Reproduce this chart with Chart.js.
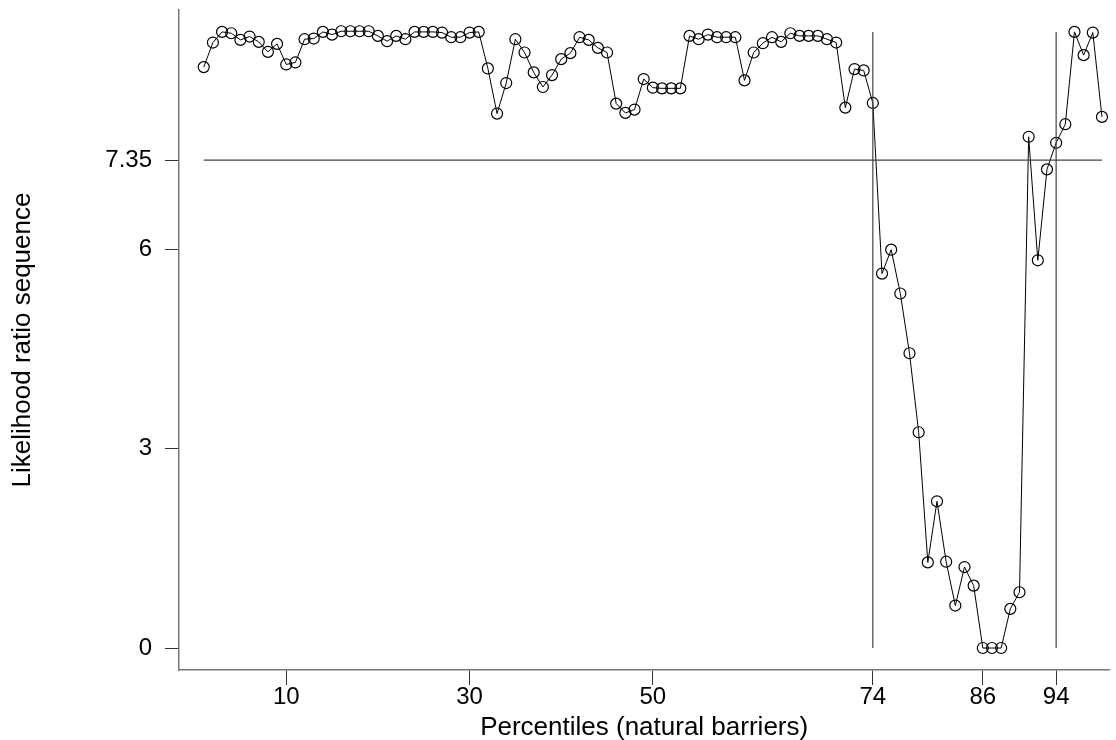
<!DOCTYPE html>
<html>
<head>
<meta charset="utf-8">
<script src="https://cdn.jsdelivr.net/npm/chart.js@4"></script>
<style>
  html, body { margin: 0; padding: 0; background: #fff; }
  #wrap { width: 1116px; height: 740px; }
</style>
</head>
<body>
<div id="wrap"><canvas id="lr" width="1116" height="740"></canvas></div>
<script>
// percentiles (x) and the likelihood ratio sequence
const percentiles = [
  1, 2, 3, 4, 5, 6, 7, 8, 9, 10, 11, 12, 13, 14, 15, 16, 17, 18, 19, 20,
  21, 22, 23, 24, 25, 26, 27, 28, 29, 30, 31, 32, 33, 34, 35, 36, 37, 38, 39, 40,
  41, 42, 43, 44, 45, 46, 47, 48, 49, 50, 51, 52, 53, 54, 55, 56, 57, 58, 59, 60,
  61, 62, 63, 64, 65, 66, 67, 68, 69, 70, 71, 72, 73, 74, 75, 76, 77, 78, 79, 80,
  81, 82, 83, 84, 85, 86, 87, 88, 89, 90, 91, 92, 93, 94, 95, 96, 97, 98, 99
];
const lrValues = [
  8.75, 9.12, 9.28, 9.26, 9.16, 9.21, 9.13, 8.98, 9.10, 8.79,
  8.82, 9.17, 9.18, 9.28, 9.24, 9.29, 9.29, 9.29, 9.29, 9.22,
  9.14, 9.22, 9.17, 9.28, 9.28, 9.28, 9.27, 9.20, 9.20, 9.27,
  9.28, 8.73, 8.05, 8.51, 9.17, 8.97, 8.67, 8.45, 8.63, 8.87,
  8.96, 9.20, 9.16, 9.04, 8.97, 8.20, 8.06, 8.11, 8.57, 8.44,
  8.43, 8.43, 8.43, 9.22, 9.17, 9.24, 9.20, 9.20, 9.20, 8.55,
  8.97, 9.11, 9.20, 9.13, 9.26, 9.22, 9.22, 9.22, 9.17, 9.12,
  8.14, 8.72, 8.70, 8.21, 5.64, 6.00, 5.34, 4.44, 3.25, 1.29,
  2.21, 1.30, 0.64, 1.22, 0.94, 0, 0, 0, 0.59, 0.84,
  7.70, 5.84, 7.21, 7.61, 7.89, 9.28, 8.93, 9.27, 8.00
];
const xTicks = [10, 30, 50, 74, 86, 94];
const yTicks = [0, 3, 6, 7.35];
const threshold = 7.35;        // horizontal reference line
const barriers = [74, 94];     // vertical reference lines
const barrierTop = 9.28;

const FONT = '"Liberation Sans", Arial, Helvetica, sans-serif';

const points = percentiles.map((p, i) => ({ x: p, y: lrValues[i] }));

const refStyle = {
  showLine: true,
  pointRadius: 0,
  borderColor: '#444',
  borderWidth: 1.2,
  fill: false
};

const datasets = [
  {
    ...refStyle,
    data: [{ x: percentiles[0], y: threshold }, { x: percentiles[percentiles.length - 1], y: threshold }]
  },
  ...barriers.map(b => ({ ...refStyle, data: [{ x: b, y: 0 }, { x: b, y: barrierTop }] })),
  {
    data: points,
    showLine: true,
    borderColor: '#000',
    borderWidth: 1,
    pointRadius: 5.5,
    pointBorderWidth: 1.2,
    pointBorderColor: '#000',
    pointBackgroundColor: 'rgba(0,0,0,0)',
    fill: false
  }
];

new Chart(document.getElementById('lr').getContext('2d'), {
  type: 'scatter',
  data: { datasets },
  options: {
    responsive: false,
    animation: false,
    devicePixelRatio: 1,
    layout: { padding: { left: 0, right: 6, top: 10, bottom: 0 } },
    plugins: { legend: { display: false }, tooltip: { enabled: false } },
    scales: {
      x: {
        type: 'linear',
        min: -1.7,
        max: 99.8,
        afterFit: s => { s.height = 70; s.paddingLeft = 0; s.paddingRight = 0; },
        afterBuildTicks: s => { s.ticks = xTicks.map(v => ({ value: v })); },
        grid: { drawOnChartArea: false, tickLength: 15, tickColor: '#333', tickWidth: 1 },
        border: { color: '#777', width: 1.5 },
        ticks: { color: '#000', padding: -2, maxRotation: 0, autoSkip: false,
          font: { family: FONT, size: 24 }, callback: v => String(v) },
        title: { display: true, text: 'Percentiles (natural barriers)', color: '#000',
          font: { family: FONT, size: 26 }, padding: { top: 0, bottom: -3 } }
      },
      y: {
        type: 'linear',
        min: -0.331,
        max: 9.61,
        afterFit: s => { s.width = 179; s.paddingTop = 0; s.paddingBottom = 0; },
        afterBuildTicks: s => { s.ticks = yTicks.map(v => ({ value: v })); },
        grid: { drawOnChartArea: false, tickLength: 14, tickColor: '#333', tickWidth: 1 },
        border: { color: '#777', width: 1.5 },
        ticks: { color: '#000', padding: 13, autoSkip: false,
          font: { family: FONT, size: 24 }, callback: v => String(v) },
        title: { display: true, text: 'Likelihood ratio sequence', color: '#000',
          font: { family: FONT, size: 26 }, padding: { top: 7, bottom: 0 } }
      }
    }
  }
});
</script>
</body>
</html>
